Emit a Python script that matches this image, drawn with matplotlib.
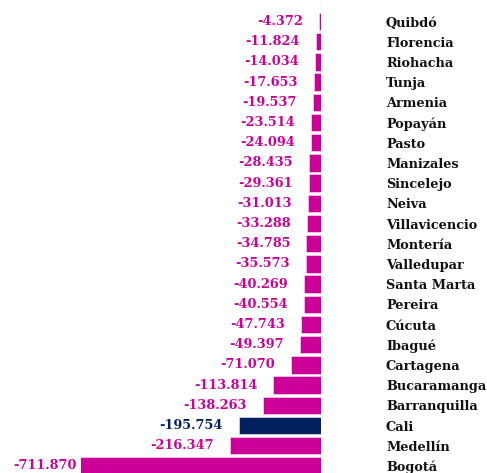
import numpy as np
import matplotlib.pyplot as plt

ciudades = ['Quibdó', 'Florencia', 'Riohacha', 'Tunja', 'Armenia', 'Popayán',
            'Pasto', 'Manizales', 'Sincelejo', 'Neiva', 'Villavicencio',
            'Montería', 'Valledupar', 'Santa Marta', 'Pereira', 'Cúcuta',
            'Ibagué', 'Cartagena', 'Bucaramanga', 'Barranquilla', 'Cali',
            'Medellín', 'Bogotá']
valores = [-4372, -11824, -14034, -17653, -19537, -23514, -24094, -28435,
           -29361, -31013, -33288, -34785, -35573, -40269, -40554, -47743,
           -49397, -71070, -113814, -138263, -195754, -216347, -711870]
destacada = 'Cali'

magenta = '#CC0099'
azul = '#002060'

W, H = 487, 473
fig = plt.figure(figsize=(W / 100, H / 100), dpi=100)
# plot area: x from 81 px to 321 px (zero line), full height
ax = fig.add_axes([81 / W, 0, (321 - 81) / W, 1])

xmin = -571000
n = len(ciudades)
y = np.arange(n)
colores = [azul if c == destacada else magenta for c in ciudades]

ax.barh(y, valores, height=0.86, color=colores, edgecolor='#FBEAF6',
        linewidth=0.4, zorder=2)
# linea del cero, por debajo de las barras
ax.axvline(1200, color='#E8B4DC', lw=1.6, zorder=1)

ax.set_xlim(xmin, 0)
ax.set_ylim((H - 21.5) / 20.2, -21.5 / 20.2)

fuente = 'DejaVu Serif'
tam = 9.3
for i, v in enumerate(valores):
    txt = '{:,}'.format(v).replace(',', '.')
    if v < xmin:
        x0, off = xmin, -4
    else:
        x0, off = v, -16
    ax.annotate(txt, (x0, i), xytext=(off, 0), textcoords='offset pixels',
                ha='right', va='center', fontsize=tam, fontweight='bold',
                family=fuente, color=colores[i], annotation_clip=False)

ax.yaxis.tick_right()
ax.set_yticks(y)
ax.set_yticklabels(ciudades, fontsize=tam, fontweight='bold', family=fuente,
                   ha='left', color='#111111')
ax.tick_params(axis='y', length=0, pad=65 * 0.72)
ax.set_xticks([])
for s in ax.spines.values():
    s.set_visible(False)

fig.savefig('out.png', dpi=100)
